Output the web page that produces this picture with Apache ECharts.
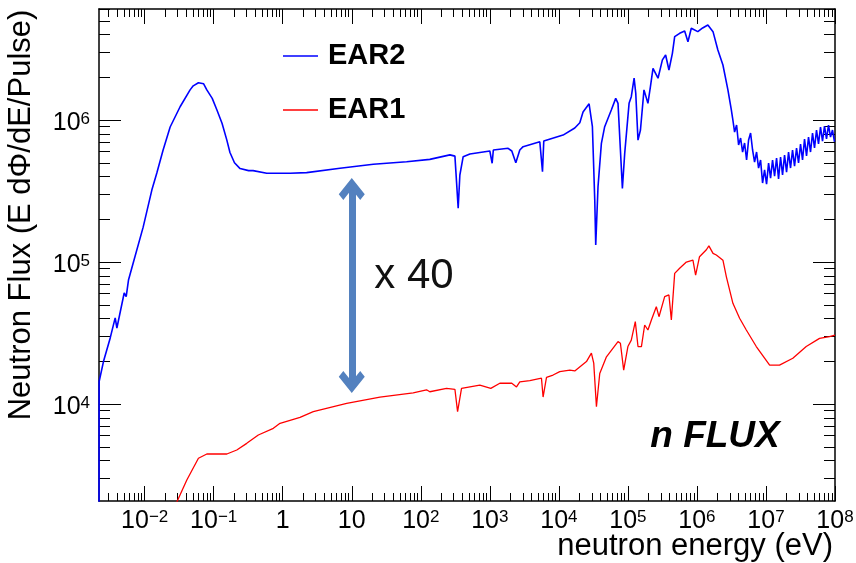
<!DOCTYPE html>
<html>
<head>
<meta charset="utf-8">
<script src="https://cdn.jsdelivr.net/npm/echarts@6/dist/echarts.min.js"></script>
<style>
html, body { margin: 0; padding: 0; background: #fff; }
#main { width: 856px; height: 563px; }
</style>
</head>
<body>
<div id="main"></div>
<script>
// EAR2 flux (blue), energy in eV
var ear2E = [0.00218, 0.00219, 0.00253, 0.00317, 0.00374, 0.00396, 0.00505, 0.0054, 0.00583, 0.00682,
  0.00951, 0.0127, 0.015, 0.0185, 0.0234, 0.0326, 0.0455, 0.0505, 0.0601, 0.0715, 0.0795, 0.0952, 0.111, 0.132,
  0.155, 0.172, 0.2, 0.241, 0.32, 0.372, 0.587, 1.28, 2.22, 6.75, 20.5, 62.3,
  135, 264, 312, 348, 368, 411, 514, 1000, 1080, 1124,
  1841, 2081, 2379, 2717, 3034, 5294, 5791, 6045, 11500, 17000,
  20100, 22400, 27400, 30600, 33100, 34200, 36900, 41300, 46100, 57700,
  66600, 71900, 77900, 83200, 89900, 104000, 112000, 123000, 130000, 140000,
  152000, 171000, 195000, 212000, 231000, 273000, 316000, 352000, 393000, 441000,
  476000, 562000, 664000, 741000, 829000, 1030000, 1210000, 1440000, 1710000, 2010000,
  2380000, 2810000, 3150000,
  3.285e6, 3.512e6, 3.754e6, 4.013e6, 4.29e6, 4.586e6, 4.901e6, 5.239e6, 5.6e6, 5.986e6,
  6.399e6, 6.839e6, 7.311e6, 7.815e6, 8.354e6, 8.929e6, 9.544e6, 1.02e7, 1.091e7, 1.166e7,
  1.246e7, 1.332e7, 1.424e7, 1.522e7, 1.627e7, 1.739e7, 1.859e7, 1.987e7, 2.124e7, 2.27e7,
  2.426e7, 2.594e7, 2.773e7, 2.964e7, 3.168e7, 3.386e7, 3.62e7, 3.869e7, 4.135e7, 4.42e7,
  4.725e7, 5.05e7, 5.398e7, 5.77e7, 6.168e7, 6.593e7, 7.047e7, 7.533e7, 8.052e7, 8.607e7,
  9.2e7, 9.835e7];
var ear2F = [1000, 14400, 19900, 29200, 40400, 34300, 60500, 57000, 74600, 98400,
  176000, 321000, 424000, 615000, 893000, 1240000, 1630000, 1740000, 1830000, 1800000, 1630000, 1420000, 1180000, 950000,
  722000, 590000, 500000, 455000, 440000, 440000, 422000, 422000, 426000, 457000, 488000, 508000,
  528000, 568000, 557000, 239000, 410000, 552000, 577000, 605000, 496000, 615000,
  632000, 605000, 500000, 615000, 649000, 703000, 433000, 711000, 783000, 879000,
  957000, 1140000, 1300000, 897000, 274000, 132000, 339000, 685000, 897000, 1180000,
  1420000, 1310000, 615000, 330000, 582000, 1310000, 1460000, 1970000, 1540000, 722000,
  850000, 1630000, 1310000, 1720000, 2310000, 1970000, 2650000, 2870000, 2250000, 2950000,
  3860000, 4080000, 4240000, 3560000, 4430000, 4190000, 4450000, 4670000, 4190000, 3110000,
  2440000, 1630000, 1180000,
  1033000, 823000, 922000, 667000, 747000, 595000, 689000, 523000, 723000, 810000,
  615000, 506000, 595000, 459000, 523000, 360000, 445000, 354000, 498000, 390000,
  523000, 403000, 540000, 384000, 549000, 410000, 567000, 430000, 595000, 459000,
  615000, 474000, 635000, 498000, 678000, 523000, 735000, 558000, 759000, 595000,
  810000, 635000, 850000, 678000, 893000, 711000, 907000, 735000, 922000, 759000,
  850000, 703000];

// EAR1 flux (red)
var ear1E = [0.028, 0.0408, 0.0601, 0.0795, 0.155, 0.216, 0.301, 0.443, 0.731, 0.914,
  1.78, 2.77, 8.44, 25.6, 77.6, 121, 135, 236, 312, 341,
  389, 716, 1033, 1396, 2081, 2434, 2717, 3793, 5598, 5907,
  6619, 8240, 10300, 14400, 17000, 25100, 29600, 32000, 35000, 39100,
  48900, 71900, 77900, 86900, 100000, 112000, 128000, 140000, 157000, 175000,
  195000, 219000, 258000, 282000, 341000, 393000, 426000, 476000, 562000, 703000,
  875000, 957000, 1090000, 1370000, 1490000, 1710000, 1910000, 2380000, 2670000, 3320000,
  4150000, 5190000, 7240000, 11300000, 15700000, 24500000, 38300000, 59700000, 83200000, 100000000];
var ear1F = [1950, 2917, 4150, 4446, 4446, 4745, 5285, 6050, 6745, 7310,
  8050, 8830, 10100, 11200, 12000, 12600, 12200, 12900, 12700, 8830,
  12900, 13600, 12900, 14000, 14000, 13200, 14300, 14600, 15200, 11200,
  15400, 16000, 16900, 17300, 17100, 19900, 22800, 19400, 9570, 16400,
  21500, 27500, 26800, 17300, 25400, 28200, 38000, 25400, 25400, 36000,
  33200, 39100, 48400, 41200, 57000, 58600, 39100, 83200, 90400, 100000,
  103000, 80900, 109000, 122000, 130000, 115000, 112000, 103000, 78700, 51200,
  40200, 33200, 25400, 18800, 18800, 21000, 25400, 29000, 29800, 30600];

var xMajor = [1e-2, 1e-1, 1, 10, 1e2, 1e3, 1e4, 1e5, 1e6, 1e7, 1e8];
var yMajor = [1e4, 1e5, 1e6];
var xMin = 0.00218, xMax = 1e8;
var yMin = 2075, yMax = 6.05e6;

// minor ticks 2..9 x 10^n inside the range
function minors(lo, hi) {
  var out = [];
  for (var e = -3; e <= 8; e++) {
    for (var m = 2; m <= 9; m++) {
      var v = m * Math.pow(10, e);
      if (v >= lo && v <= hi) out.push(v);
    }
  }
  return out;
}
var xMinor = minors(xMin, xMax);
var yMinor = minors(yMin, yMax);

var FONT = 'Liberation Sans';

function powLabel(v) {
  var e = Math.round(Math.log10(v));
  if (e === 0) return '{b|1}';
  if (e === 1) return '{b|10}';
  return '{b|10}{s|' + (e < 0 ? '\u2212' + (-e) : e) + '}';
}
var labelRich = {
  b: { fontSize: 25, fontFamily: FONT, color: '#000' },
  s: { fontSize: 17, fontFamily: FONT, color: '#000', verticalAlign: 'top' }
};

function axis(kind, pos, ticks, len, main) {
  return {
    type: 'log',
    position: pos,
    min: kind === 'x' ? xMin : yMin,
    max: kind === 'x' ? xMax : yMax,
    axisLine: { show: main, lineStyle: { color: '#000', width: 1.5 } },
    axisTick: { show: true, inside: true, length: len, customValues: ticks,
      lineStyle: { color: '#000', width: 1 } },
    axisLabel: { show: false },
    splitLine: { show: false },
    minorTick: { show: false }
  };
}

var xBottom = axis('x', 'bottom', xMajor, 15, true);
xBottom.axisLabel = {
  show: true, customValues: xMajor, margin: 8,
  formatter: powLabel, rich: labelRich
};

var yLeft = axis('y', 'left', yMajor, 22, true);
yLeft.axisLabel = {
  show: true, customValues: yMajor, margin: 9, padding: [7, 0, 0, 0],
  formatter: powLabel, rich: labelRich
};
yLeft.name = 'Neutron Flux (E d\u03A6/dE/Pulse)';
yLeft.nameLocation = 'middle';
yLeft.nameRotate = 90;
yLeft.nameGap = 62;
yLeft.nameTextStyle = { fontFamily: FONT, fontSize: 31, color: '#000', padding: [0, 0, 0, 80] };

var chevron = 'path://M10,0 L20,10 L16.5,13.5 L10,7 L3.5,13.5 L0,10 Z';

var chart = echarts.init(document.getElementById('main'));
var option = {
  animation: false,
  backgroundColor: '#fff',
  grid: { left: 99, right: 21, top: 9, bottom: 62, containLabel: false, outerBoundsMode: 'none' },
  legend: {
    orient: 'vertical', left: 283, top: 41, padding: 0,
    icon: 'rect', itemWidth: 35, itemHeight: 1.5, itemGap: 24,
    textStyle: { fontFamily: FONT, fontSize: 29, fontWeight: 'bold', color: '#000',
      lineHeight: 30, padding: [0, 0, 0, 5] },
    data: ['EAR2', 'EAR1']
  },
  xAxis: [
    xBottom,
    axis('x', 'bottom', xMinor, 8, false),
    axis('x', 'top', xMajor, 15, true),
    axis('x', 'top', xMinor, 8, false)
  ],
  yAxis: [
    yLeft,
    axis('y', 'left', yMinor, 11, false),
    axis('y', 'right', yMajor, 22, true),
    axis('y', 'right', yMinor, 11, false)
  ],
  series: [
    {
      name: 'EAR2', type: 'line', symbol: 'none', xAxisIndex: 0, yAxisIndex: 0,
      lineStyle: { color: '#0000ff', width: 1.6 }, itemStyle: { color: '#0000ff' },
      data: ear2E.map(function (e, i) { return [e, ear2F[i]]; }),
      markLine: {
        silent: true, animation: false,
        symbol: [chevron, chevron],
        symbolSize: [26, 22],
        label: { show: false },
        lineStyle: { color: '#5381bf', width: 7, type: 'solid' },
        itemStyle: { color: '#5381bf' },
        data: [[{ coord: [10, 3.27e5] }, { coord: [10, 1.43e4] }]]
      }
    },
    {
      name: 'EAR1', type: 'line', symbol: 'none', xAxisIndex: 0, yAxisIndex: 0,
      lineStyle: { color: '#ff0000', width: 1.3 }, itemStyle: { color: '#ff0000' },
      data: ear1E.map(function (e, i) { return [e, ear1F[i]]; })
    }
  ],
  graphic: [
    { type: 'text', x: 833, y: 546, silent: true,
      style: { text: 'neutron energy (eV)', align: 'right', verticalAlign: 'middle',
        font: '31px "Liberation Sans"', fill: '#000' } },
    { type: 'text', x: 414, y: 276, silent: true,
      style: { text: 'x 40', align: 'center', verticalAlign: 'middle',
        font: '42px "Liberation Sans"', fill: '#111' } },
    { type: 'text', x: 715, y: 437, silent: true,
      style: { text: 'n FLUX', align: 'center', verticalAlign: 'middle',
        font: 'italic bold 37px "Liberation Sans"', fill: '#000' } }
  ]
};
chart.setOption(option);
window.onresize = chart.resize;
</script>
</body>
</html>
